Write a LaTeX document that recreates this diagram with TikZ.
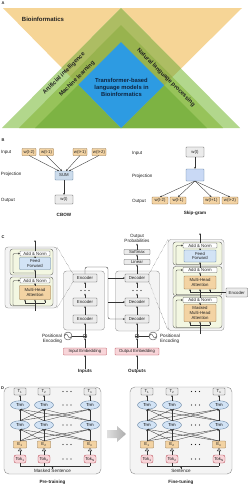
\documentclass[tikz,border=0pt]{standalone}
\usepackage{fontspec}
\setmainfont{Liberation Sans}
\usetikzlibrary{arrows.meta,shapes.geometric}
\definecolor{orA}{HTML}{F6D596}
\definecolor{gA}{HTML}{B2D78C}
\definecolor{gB}{HTML}{97C35A}
\definecolor{gC}{HTML}{7DB343}
\definecolor{oA}{HTML}{ADBD63}
\definecolor{oB}{HTML}{98B34E}
\definecolor{blA}{HTML}{2D9BE2}
\definecolor{navy}{HTML}{0E2440}
\definecolor{txt}{HTML}{222222}
\definecolor{lnc}{HTML}{333333}
\definecolor{tanF}{HTML}{F3D3A3}
\definecolor{tanD}{HTML}{8E6B3C}
\definecolor{gryF}{HTML}{EBEBEB}
\definecolor{gryD}{HTML}{555555}
\definecolor{bluF}{HTML}{D2E3F5}
\definecolor{bluD}{HTML}{5D7C9C}
\definecolor{prjF}{HTML}{C9D9F5}
\definecolor{sumF}{HTML}{CCDCEC}
\definecolor{pnkF}{HTML}{F8D5D9}
\definecolor{pnkD}{HTML}{B84A55}
\definecolor{subF}{HTML}{F3F7E2}
\definecolor{panF}{HTML}{F4F4F4}
\definecolor{panD}{HTML}{8A8A8A}
\tikzset{
  base/.style={inner sep=0pt, outer sep=0pt},
  lbl/.style={base, font=\fontsize{4.6}{5}\selectfont, text=txt},
  bld/.style={base, font=\bfseries\fontsize{4.6}{5}\selectfont, text=txt},
  ptl/.style={base, font=\bfseries\fontsize{4}{4.5}\selectfont, text=txt},
  atext/.style={base, font=\bfseries\fontsize{5.8}{7.3}\selectfont, text=txt},
  ln/.style={line width=0.35pt, draw=lnc},
  arr/.style={ln, -{Stealth[length=2pt,width=1.7pt]}},
  hol/.style={ln, -{Triangle[open,length=3pt,width=4pt]}},
  bx/.style={base, draw, line width=0.35pt, rounded corners=0.7pt, font=\fontsize{4.3}{4.6}\selectfont, align=center, text=txt},
  wbox/.style={bx, draw=tanD, fill=tanF, minimum width=14pt, minimum height=7pt},
  gbox/.style={bx, draw=gryD, fill=gryF},
  sumb/.style={bx, draw=bluD, fill=sumF, minimum width=18pt, minimum height=9pt},
  projb/.style={bx, draw=bluD, fill=prjF, minimum width=18pt, minimum height=12pt},
  cbox/.style={bx, draw=gryD, fill=gryF, minimum width=24pt, minimum height=8pt},
  anb/.style={bx, draw=gryD, fill=white, minimum width=30pt, minimum height=5pt},
  ffb/.style={bx, draw=bluD, fill=bluF, minimum width=31pt, minimum height=12pt},
  mhb/.style={bx, draw=tanD, fill=tanF, minimum width=31pt, minimum height=14pt},
  emb/.style={bx, draw=pnkD, fill=pnkF, minimum height=7pt},
  det/.style={base, draw=panD, fill=panF, rounded corners=3pt, line width=0.35pt},
  stk/.style={base, draw=panD, fill=panF, rounded corners=3pt, line width=0.35pt},
  sub/.style={base, draw=gryD, fill=subF, rounded corners=2.5pt, line width=0.35pt},
  pls/.style={base, circle, draw=lnc, line width=0.35pt, minimum size=4pt,
    path picture={\draw[line width=0.3pt] (path picture bounding box.north) -- (path picture bounding box.south) (path picture bounding box.west) -- (path picture bounding box.east);}},
  pec/.style={base, circle, draw=lnc, line width=0.35pt, minimum size=8pt},
  panel/.style={base, draw=panD, fill=panF, rounded corners=5pt, line width=0.4pt},
  tbox/.style={bx, draw=gryD, fill=gryF, minimum width=12pt, minimum height=7pt},
  trm/.style={base, ellipse, draw=bluD, fill=bluF, line width=0.35pt, minimum width=19pt, minimum height=8.5pt, font=\fontsize{4.3}{4.6}\selectfont},
  ebox/.style={bx, draw=tanD, fill=tanF, minimum width=13pt, minimum height=7pt},
  tokbox/.style={bx, draw=pnkD, fill=pnkF, rounded corners=2pt, minimum width=12pt, minimum height=8pt},
}
\begin{document}
\begin{tikzpicture}[x=1pt,y=-1pt]
\useasboundingbox (0,0) rectangle (250,485);
\fill[white] (0,0) rectangle (250,485);
% ================= A =================
\node[ptl] (labA) at (3,3.5) {A};
\fill[orA] (3,8) -- (242,8) -- (121,128) -- cycle;
\fill[gA] (121,8) -- (240,128) -- (2,128) -- cycle;
\fill[gB] (121,25) -- (223,128) -- (19,128) -- cycle;
\fill[gC] (121,42) -- (207,128) -- (35,128) -- cycle;
\begin{scope}
  \clip (3,8) -- (242,8) -- (121,128) -- cycle;
  \fill[oA] (121,8) -- (240,128) -- (2,128) -- cycle;
  \fill[oB] (121,25) -- (223,128) -- (19,128) -- cycle;
  \fill[blA] (121,42) -- (207,128) -- (35,128) -- cycle;
\end{scope}
\node[atext, font=\bfseries\fontsize{6}{7}\selectfont] (bioinf) at (43,19) {Bioinformatics};
\node[atext, rotate=45] (ai) at (64,73.5) {Artificial intelligence};
\node[atext, rotate=45] (ml) at (77,79) {Machine learning};
\node[atext, rotate=-45] (nlp) at (166,77.5) {Natural language processing};
\node[atext, align=center, text=navy] (tblm) at (121.5,87.5) {Transformer-based\\language models in\\Bioinformatics};
% ================= B =================
\node[ptl] (labB) at (3,140) {B};
\node[lbl, anchor=west] (inL) at (1,152) {Input};
\node[lbl, anchor=west] (prL) at (1,174.5) {Projection};
\node[lbl, anchor=west] (ouL) at (1,200) {Output};
\node[wbox] (a1) at (29,152) {w(t-2)};
\node[wbox] (a2) at (46.5,152) {w(t-1)};
\node[wbox] (a3) at (80,152) {w(t+1)};
\node[wbox] (a4) at (99,152) {w(t+2)};
\node[sumb] (sum) at (64,175.5) {SUM};
\node[gbox, minimum width=18pt, minimum height=9pt] (wt) at (64,199.5) {w(t)};
\node[bld] (cbow) at (64,215) {CBOW};
\draw[arr] (a1.south) -- ([xshift=-5pt]sum.north);
\draw[arr] (a2.south) -- ([xshift=-2pt]sum.north);
\draw[arr] (a3.south) -- ([xshift=2pt]sum.north);
\draw[arr] (a4.south) -- ([xshift=5pt]sum.north);
\draw[arr] (sum.south) -- (wt.north);
\node[lbl, anchor=west] (inR) at (132,153) {Input};
\node[lbl, anchor=west] (prR) at (132,176) {Projection};
\node[lbl, anchor=west] (ouR) at (132,201) {Output};
\node[gbox, minimum width=18pt, minimum height=10pt] (st) at (195,152) {w(t)};
\node[projb] (sp) at (195,175) {};
\node[wbox, minimum width=16pt] (b1) at (160,200.5) {w(t-2)};
\node[wbox, minimum width=16pt] (b2) at (178,200.5) {w(t-1)};
\node[wbox, minimum width=16pt] (b3) at (211.5,200.5) {w(t+1)};
\node[wbox, minimum width=16pt] (b4) at (230,200.5) {w(t+2)};
\draw[arr] (st.south) -- (sp.north);
\foreach \n in {1,...,4} \draw[arr] (sp.south) -- (b\n.north);
\node[bld] (skip) at (195,213) {Skip-gram};
% ================= C =================
\node[ptl] (labC) at (3,237) {C};
% encoder detail
\node[det, minimum width=52pt, minimum height=61pt] (encD) at (31,277.5) {};
\node[sub, minimum width=43pt, minimum height=26pt] (es1) at (31.5,262) {};
\node[sub, minimum width=43pt, minimum height=29pt] (es2) at (31.5,291.5) {};
\node[anb] (ean1) at (35,253.5) {Add \& Norm};
\node[ffb] (eff) at (35,263.5) {Feed\\Forward};
\node[anb] (ean2) at (35,280.5) {Add \& Norm};
\node[mhb] (emha) at (35,292.5) {Multi-Head\\Attention};
\draw[arr] (ean1.north) -- (35,240);
\draw[arr] (eff.north) -- (ean1.south);
\draw[arr] (ean2.north) -- (eff.south);
\draw[arr] (emha.north) -- (ean2.south);
\draw[ln] (35,311) -- (35,303);
\draw[ln] (25,303) -- (45,303);
\draw[arr] (25,303) -- ([xshift=-10pt]emha.south);
\draw[arr] (35,303) -- (emha.south);
\draw[arr] (45,303) -- ([xshift=10pt]emha.south);
\draw[arr, rounded corners=1pt] (35,305.5) -- (13,305.5) -- (13,280.5) -- (ean2.west);
\draw[arr, rounded corners=1pt] (35,273) -- (13,273) -- (13,253.5) -- (ean1.west);
% decoder detail
\node[det, minimum width=56pt, minimum height=91pt] (decD) at (196,285) {};
\node[sub, minimum width=49pt, minimum height=23pt] (ds1) at (197.5,253.5) {};
\node[sub, minimum width=49pt, minimum height=29pt] (ds2) at (197.5,281) {};
\node[sub, minimum width=49pt, minimum height=32pt] (ds3) at (197.5,312) {};
\node[anb, minimum width=34pt] (dan1) at (200,245.5) {Add \& Norm};
\node[ffb, minimum width=32pt] (dff) at (200,256) {Feed\\Forward};
\node[anb, minimum width=34pt] (dan2) at (200,270) {Add \& Norm};
\node[mhb, minimum width=32pt, minimum height=13pt] (dmha) at (200,282.5) {Multi-Head\\Attention};
\node[anb, minimum width=34pt] (dan3) at (200,300) {Add \& Norm};
\node[mhb, minimum width=32pt, minimum height=17pt] (dmm) at (200,313) {Masked\\Multi-Head\\Attention};
\node[gbox, minimum width=21.5pt, minimum height=9pt] (encR) at (236.75,292.5) {Encoder};
\draw[arr] (dan1.north) -- (200,233);
\draw[arr] (dff.north) -- (dan1.south);
\draw[arr] (dan2.north) -- (dff.south);
\draw[arr] (dmha.north) -- (dan2.south);
\draw[arr] (dan3.north) -- (dmha.south);
\draw[arr] (dmm.north) -- (dan3.south);
\draw[ln] (200,334) -- (200,325);
\draw[ln] (190,325) -- (210,325);
\draw[arr] (190,325) -- ([xshift=-10pt]dmm.south);
\draw[arr] (200,325) -- (dmm.south);
\draw[arr] (210,325) -- ([xshift=10pt]dmm.south);
\draw[ln] (encR.west) -- (190,292.5);
\draw[arr] (190,292.5) -- ([xshift=-10pt]dmha.south);
\draw[arr] (210,292.5) -- ([xshift=10pt]dmha.south);
\draw[arr, rounded corners=1pt] (200,327.5) -- (176,327.5) -- (176,300) -- (dan3.west);
\draw[arr, rounded corners=1pt] (200,294.8) -- (176,294.8) -- (176,270) -- (dan2.west);
\draw[arr, rounded corners=1pt] (200,264.5) -- (176,264.5) -- (176,245.5) -- (dan1.west);
% encoder stack
\node[stk, minimum width=41pt, minimum height=59pt] (estk) at (84,300.5) {};
\node[cbox] (e1) at (85,278) {Encoder};
\node[cbox] (e2) at (85,302) {Encoder};
\node[cbox] (e3) at (85,319) {Encoder};
\foreach \dx in {-4,0,4} \fill[txt] (85+\dx,290.5) circle (0.7);
\draw[arr] (e3.north) -- (e2.south);
\draw[arr] (e2.north) -- (85,293.5);
\draw[arr] (85,287.5) -- (e1.south);
% decoder stack
\node[stk, minimum width=44pt, minimum height=60pt] (dstk) at (137.5,301) {};
\node[cbox] (d1) at (137,278) {Decoder};
\node[cbox] (d2) at (137,302) {Decoder};
\node[cbox] (d3) at (137,319) {Decoder};
\foreach \dx in {-4,0,4} \fill[txt] (137+\dx,290.5) circle (0.7);
\draw[arr] (d3.north) -- (d2.south);
\draw[arr] (d2.north) -- (137,293.5);
\draw[arr] (137,287.5) -- (d1.south);
\node[cbox, minimum width=26pt, minimum height=5pt] (lin) at (137,262) {Linear};
\node[cbox, minimum width=26pt, minimum height=5pt] (sm) at (137,252) {Softmax};
\node[lbl, align=center] (oprob) at (137,238) {Output\\Probabilities};
\draw[arr] (d1.north) -- (lin.south);
\draw[arr] (lin.north) -- (sm.south);
\draw[arr] (sm.north) -- (137,243.5);
% encoder -> decoder
\draw[arr, rounded corners=2pt] (e1.north) |- (108,267) |- (d3.west);
\draw[arr] (108,278) -- (d1.west);
\draw[arr] (108,302) -- (d2.west);
% positional encodings and embeddings
\node[pls] (eplus) at (85,336) {};
\node[pec] (epe) at (68,336) {};
\draw[ln] (64.5,336) sin (66.25,334) cos (68,336) sin (69.75,338) cos (71.5,336);
\draw[ln] (epe) -- (eplus);
\node[lbl, align=right, anchor=east] (epl) at (62,338.5) {Positional\\Encoding};
\node[pls] (dplus) at (137,336) {};
\node[pec] (dpe) at (153,336) {};
\draw[ln] (149.5,336) sin (151.25,334) cos (153,336) sin (154.75,338) cos (156.5,336);
\draw[ln] (dpe) -- (dplus);
\node[lbl, align=left, anchor=west] (dpl) at (160,338.5) {Positional\\Encoding};
\node[emb, minimum width=43pt] (iemb) at (85,351.5) {Input Embedding};
\node[emb, minimum width=44pt] (oemb) at (137,351.5) {Output Embedding};
\node[bld] (inp) at (85,371) {Inputs};
\node[bld] (outp) at (137,371) {Outputs};
\draw[arr] (inp.north) -- (iemb.south);
\draw[arr] (iemb.north) -- (eplus.south);
\draw[arr] (eplus.north) -- (e3.south);
\draw[arr] (outp.north) -- (oemb.south);
\draw[arr] (oemb.north) -- (dplus.south);
\draw[arr] (dplus.north) -- (d3.south);
% dotted zoom lines
\draw[ln, densely dotted] (encD.north east) -- (e1.north west);
\draw[ln, densely dotted] (encD.south east) -- (e1.south west);
\draw[ln, densely dotted] (d1.north east) -- (decD.north west);
\draw[ln, densely dotted] (d1.south east) -- (decD.south west);
% ================= D =================
\foreach \p/\ca/\cb/\cc/\pc/\pw/\st/\ti in {p/20/44/90/52.5/97/Masked Sentence/Pre-training, f/147/172/219/181/102/Sentence/Fine-tuning}{
  \node[panel, minimum width=\pw pt, minimum height=87pt] (pan\p) at (\pc,430.5) {};
  \foreach \i/\x/\k in {1/\ca/1, 2/\cb/2, n/\cc/N}{
    \node[tbox] (T\i\p) at (\x,391.5) {T\textsubscript{\i}};
    \node[trm] (A\i\p) at (\x,405) {Trm};
    \node[trm] (B\i\p) at (\x,425) {Trm};
    \node[ebox] (E\i\p) at (\x,444.5) {E\textsubscript{\i}};
    \node[tokbox] (K\i\p) at (\x,459) {Tok\textsubscript{\k}};
    \draw[arr] (A\i\p.north) -- (T\i\p.south);
    \draw[hol] (K\i\p.north) -- (E\i\p.south);
    \draw[ln] (K\i\p.south) -- (\x,466);
  }
  \foreach \i in {1,2,n}{\foreach \j in {1,2,n}{
    \draw[arr] (E\i\p.north) -- (B\j\p.south);
    \draw[arr] (B\i\p.north) -- (A\j\p.south);
  }}
  \foreach \yy in {391.5,405,425,444.5,459}{
    \foreach \dx in {-4,0,4}{\fill[txt] ({(\cb+\cc)/2+\dx},\yy) circle (0.7);}
  }
  \draw[ln] (\ca,466) -- (\cc,466);
  \node[lbl] (S\p) at (\pc,470.5) {\st};
  \draw[arr] (S\p.north) -- (\pc,466);
  \node[bld] (ti\p) at (\pc,482) {\ti};
}
\node[ptl] (labD) at (2.5,388.5) {D};
\shade[left color=gray!25, right color=gray!65] (107,430) -- (117,430) -- (117,426) -- (126,434) -- (117,442) -- (117,438) -- (107,438) -- cycle;
\end{tikzpicture}
\end{document}
